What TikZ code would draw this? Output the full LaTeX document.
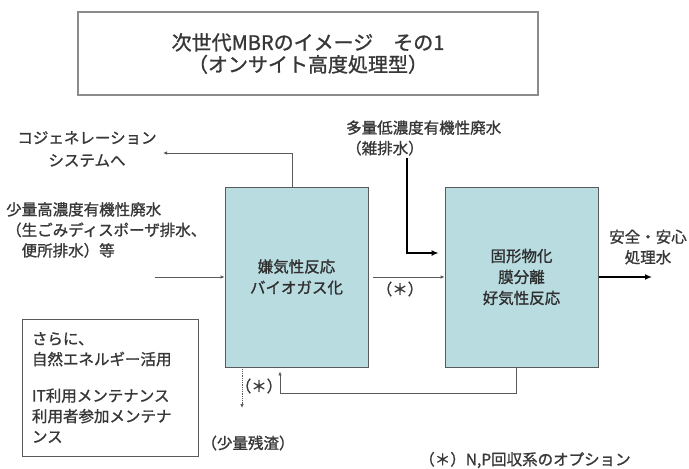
\documentclass[tikz,border=0pt]{standalone}
\usepackage{fontspec}
\setmainfont[FakeBold=1.2]{Noto Sans CJK JP}
\usetikzlibrary{arrows.meta,calc}
\definecolor{boxfill}{RGB}{185,220,225}
\definecolor{txt}{RGB}{55,55,55}
\definecolor{ln}{RGB}{90,90,90}
\tikzset{
  body/.style={font=\fontsize{15.5}{20.5}\selectfont, text=txt, inner sep=0pt},
  procbox/.style={draw=ln, line width=0.8pt, fill=boxfill, minimum width=#1, minimum height=180pt, inner sep=0pt, font=\fontsize{15.5}{21}\selectfont, text=txt!85!black, align=center},
  thinarrow/.style={draw=ln, line width=0.8pt, -{Latex[length=4pt,width=3.5pt]}},
  thickarrow/.style={draw=black, line width=2.2pt, -{Latex[length=7pt,width=6pt]}},
}
\begin{document}
\begin{tikzpicture}[x=1pt,y=-1pt]
\useasboundingbox (0,0) rectangle (689,469);
% title
\node[draw=ln!70, line width=1.2pt, minimum width=460pt, minimum height=83pt, align=center,
      font=\fontsize{20}{22}\selectfont, text=txt] (title) at (308,53.5)
  {次世代MBRのイメージ\hspace{1em}その1\\（オンサイト高度処理型）};
% process boxes
\node[procbox=143pt] (A) at (296.5,277) {嫌気性反応\\バイオガス化};
\node[procbox=153pt] (B) at (521.5,277) {固形物化\\膜分離\\好気性反応};
% labels
\node[body, align=center] (cogen) at (87,149) {コジェネレーション\\[2pt]システムへ};
\node[body, align=left, anchor=west] (small) at (6,230) {少量高濃度有機性廃水\\（生ごみディスポーザ排水、\\　便所排水）等};
\node[body, align=left, anchor=west] (large) at (346,138) {多量低濃度有機性廃水\\（雑排水）};
\node[body, align=center] (safe) at (648,247) {安全・安心\\処理水};
\node[body] (star1) at (400,289) {（＊）};
\node[body] (star2) at (259,386) {（＊）};
\node[body] (resid) at (248,443) {（少量残渣）};
\node[body] (foot) at (525,460) {（＊）N,P回収系のオプション};
\node[draw=ln, line width=0.8pt, minimum width=176pt, minimum height=137pt, body, align=left,
      text width=156pt, inner xsep=10pt] (note) at (110,387.5)
  {さらに、\\自然エネルギー活用\\[16pt]IT利用メンテナンス\\利用者参加メンテナ\\ンス};
% coordinates
\coordinate (cogenend) at (163,153);
\coordinate (in1) at (155,277);
\coordinate (large1) at (407,158);
\coordinate (out1) at (652,277);
\coordinate (residend) at (242,408);
\coordinate (recy) at (280,393);
% connectors
\draw[thinarrow] ([xshift=-4.5pt]A.north) |- (cogenend);
\draw[thinarrow] (in1) -- (A.west);
\draw[thinarrow, shorten <=5pt] (A.east) -- (B.west);
\draw[thickarrow] (large1) |- ([yshift=24pt,xshift=-6pt]B.west);
\draw[thickarrow, shorten <=1pt] (B.east) -- (out1);
\draw[thinarrow, densely dotted] ([xshift=-54.5pt]A.south) -- (residend);
\draw[thinarrow] ([xshift=-5.5pt]B.south) |- (recy) -- ([xshift=-16.5pt,yshift=-4pt]A.south);
\end{tikzpicture}
\end{document}
